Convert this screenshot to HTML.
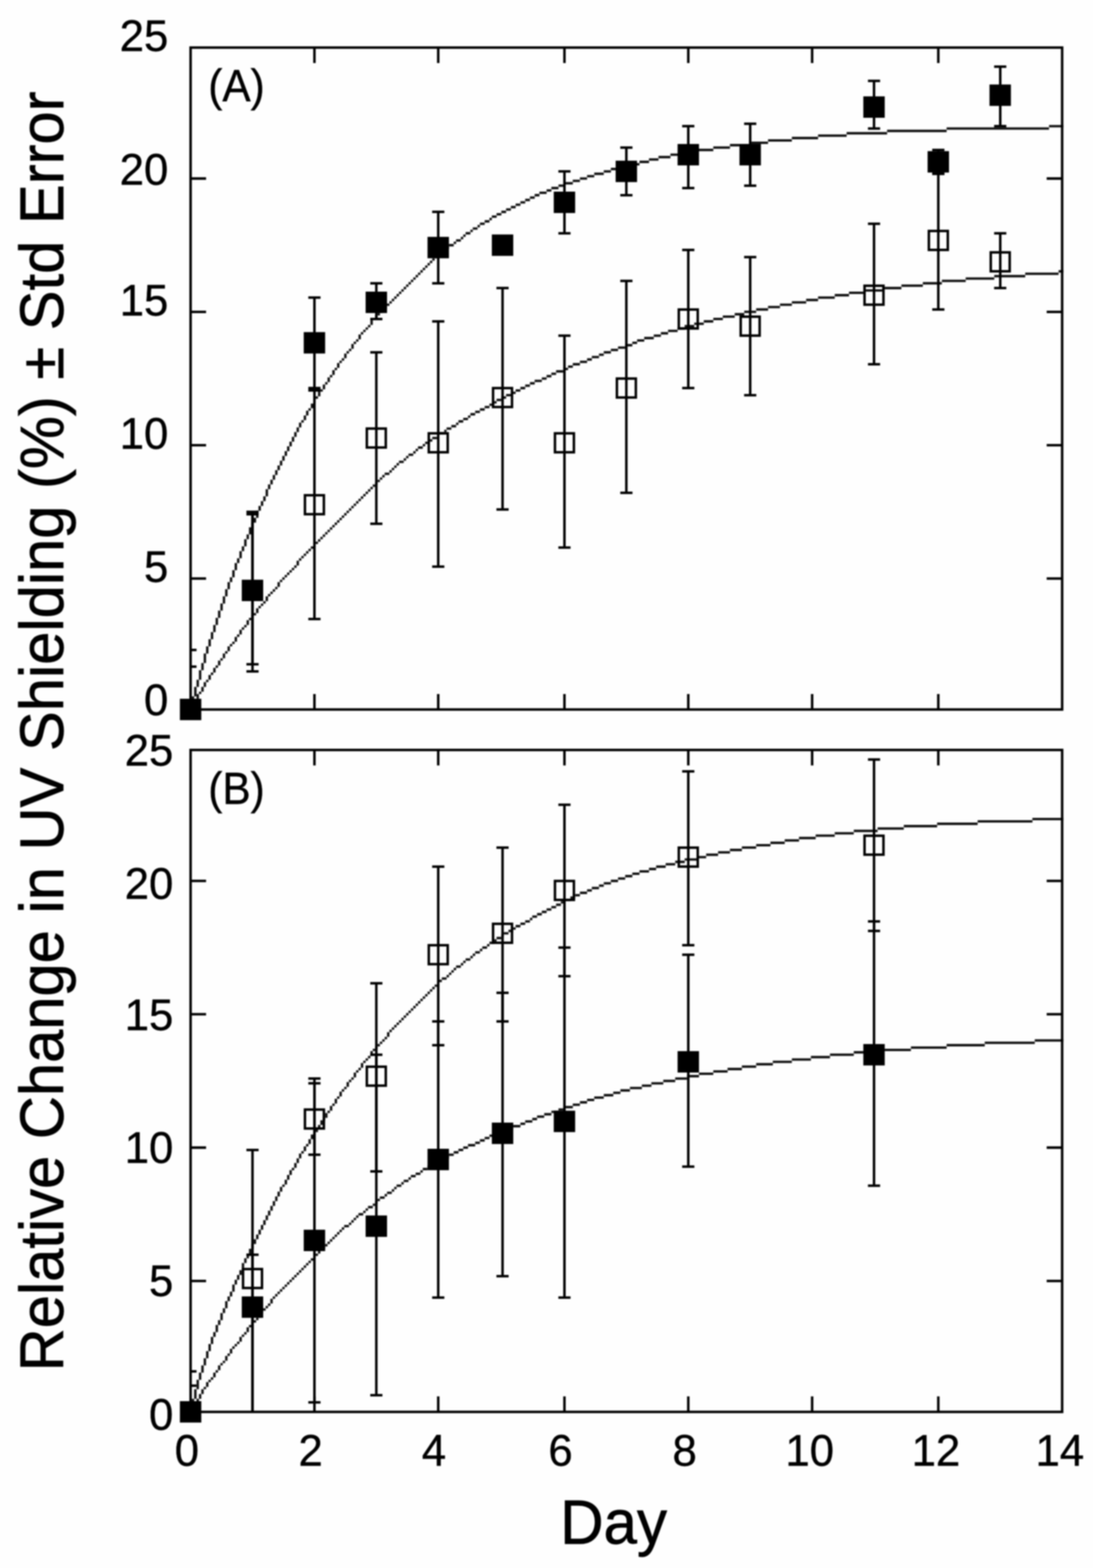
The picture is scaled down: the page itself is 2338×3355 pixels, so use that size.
<!DOCTYPE html>
<html lang="en"><head><meta charset="utf-8"><title>Relative Change in UV Shielding</title>
<style>html,body{margin:0;padding:0;background:#fff}body{width:2338px;height:3355px;overflow:hidden}svg{display:block}text{font-family:"Liberation Sans", Arial, Helvetica, sans-serif;fill:#000}.tk{font-size:93.5px;stroke:#000;stroke-width:0.8px}.tt{font-size:127.7px;stroke:#000;stroke-width:1.3px}.ln{stroke:#000;stroke-width:5.3;fill:none;stroke-linecap:butt}.cv{stroke:#1a1a1a;stroke-width:4.6;fill:none;stroke-linejoin:round}.px{fill:#101010}.fm{fill:#000}.om{fill:none;stroke:#000;stroke-width:5.3}</style></head><body>
<svg width="2338" height="3355" viewBox="0 0 2338 3355">
<defs><filter id="soft" x="-2%" y="-2%" width="104%" height="104%"><feGaussianBlur stdDeviation="1.5"/></filter></defs>
<rect width="2338" height="3355" fill="#fefefe"/>
<g filter="url(#soft)">
<g id="panelA">
<path class="px" d="M405.2 1520.6h5.1v-10.2h-5.1zM410.2 1510.4h5.1v-20.4h-5.1zM415.3 1490.1h5.1v-20.4h-5.1zM420.4 1469.7h5.1v-15.3h-5.1zM425.5 1454.4h5.1v-20.4h-5.1zM430.6 1434h5.1v-15.3h-5.1zM435.7 1418.7h5.1v-20.4h-5.1zM440.8 1398.4h5.1v-15.3h-5.1zM445.9 1383.1h5.1v-15.3h-5.1zM451 1367.8h5.1v-15.3h-5.1zM456.1 1352.5h5.1v-15.3h-5.1zM461.2 1337.2h5.1v-15.3h-5.1zM466.3 1321.9h5.1v-15.3h-5.1zM471.4 1306.6h5.1v-15.3h-5.1zM476.5 1291.4h5.1v-15.3h-5.1zM481.6 1276.1h5.1v-15.3h-5.1zM486.7 1260.8h5.1v-15.3h-5.1zM491.7 1245.5h5.1v-10.2h-5.1zM496.8 1235.3h5.1v-15.3h-5.1zM501.9 1220h5.1v-15.3h-5.1zM507 1204.8h5.1v-10.2h-5.1zM512.1 1194.6h5.1v-15.3h-5.1zM517.2 1179.3h5.1v-10.2h-5.1zM522.3 1169.1h5.1v-15.3h-5.1zM527.4 1153.8h5.1v-10.2h-5.1zM532.5 1143.6h5.1v-15.3h-5.1zM537.6 1128.3h5.1v-10.2h-5.1zM542.7 1118.2h5.1v-10.2h-5.1zM547.8 1108h5.1v-15.3h-5.1zM552.9 1092.7h5.1v-10.2h-5.1zM558 1082.5h5.1v-10.2h-5.1zM563.1 1072.3h5.1v-10.2h-5.1zM568.2 1062.1h5.1v-15.3h-5.1zM573.2 1046.8h5.1v-10.2h-5.1zM578.3 1036.6h5.1v-10.2h-5.1zM583.4 1026.5h5.1v-10.2h-5.1zM588.5 1016.3h5.1v-10.2h-5.1zM593.6 1006.1h5.1v-10.2h-5.1zM598.7 995.9h5.1v-10.2h-5.1zM603.8 985.7h5.1v-10.2h-5.1zM608.9 975.5h5.1v-10.2h-5.1zM614 965.3h5.1v-10.2h-5.1zM619.1 955.1h5.1v-10.2h-5.1zM624.2 944.9h5.1v-10.2h-5.1zM629.3 934.8h5.1v-10.2h-5.1zM634.4 924.6h5.1v-10.2h-5.1zM639.5 914.4h5.1v-10.2h-5.1zM644.6 904.2h5.1v-5.1h-5.1zM649.7 899.1h5.1v-10.2h-5.1zM654.7 888.9h5.1v-10.2h-5.1zM659.8 878.7h5.1v-5.1h-5.1zM664.9 873.6h5.1v-10.2h-5.1zM670 863.4h5.1v-10.2h-5.1zM675.1 853.2h5.1v-5.1h-5.1zM680.2 848.1h5.1v-10.2h-5.1zM685.3 838h5.1v-5.1h-5.1zM690.4 832.9h5.1v-10.2h-5.1zM695.5 822.7h5.1v-5.1h-5.1zM700.6 817.6h5.1v-10.2h-5.1zM705.7 807.4h5.1v-5.1h-5.1zM710.8 802.3h5.1v-10.2h-5.1zM715.9 792.1h5.1v-5.1h-5.1zM721 787h5.1v-10.2h-5.1zM726.1 776.8h5.1v-5.1h-5.1zM731.1 771.7h5.1v-5.1h-5.1zM736.2 766.6h5.1v-10.2h-5.1zM741.3 756.4h5.1v-5.1h-5.1zM746.4 751.3h5.1v-5.1h-5.1zM751.5 746.3h5.1v-10.2h-5.1zM756.6 736.1h5.1v-5.1h-5.1zM761.7 731h5.1v-5.1h-5.1zM766.8 725.9h5.1v-10.2h-5.1zM771.9 715.7h5.1v-5.1h-5.1zM777 710.6h5.1v-5.1h-5.1zM782.1 705.5h5.1v-5.1h-5.1zM787.2 700.4h5.1v-5.1h-5.1zM792.3 695.3h5.1v-10.2h-5.1zM797.4 685.1h5.1v-5.1h-5.1zM802.5 680h5.1v-5.1h-5.1zM807.6 674.9h5.1v-5.1h-5.1zM812.6 669.8h5.1v-5.1h-5.1zM817.7 664.7h5.1v-5.1h-5.1zM822.8 659.6h5.1v-5.1h-5.1zM827.9 654.6h5.1v-5.1h-5.1zM833 649.5h5.1v-5.1h-5.1zM838.1 644.4h5.1v-5.1h-5.1zM843.2 639.3h5.1v-5.1h-5.1zM848.3 634.2h5.1v-5.1h-5.1zM853.4 629.1h5.1v-5.1h-5.1zM858.5 624h5.1v-5.1h-5.1zM863.6 618.9h5.1v-5.1h-5.1zM868.7 613.8h5.1v-5.1h-5.1zM873.8 608.7h5.1v-5.1h-5.1zM878.9 603.6h5.1v-5.1h-5.1zM884 598.5h5.1v-5.1h-5.1zM889.1 593.4h5.1v-5.1h-5.1zM894.1 588.3h5.1v-5.1h-5.1zM899.2 583.2h5.1v-5.1h-5.1zM904.3 578.1h5.1v-5.1h-5.1zM909.4 573h5.1v-5.1h-5.1zM914.5 567.9h5.1v-5.1h-5.1zM919.6 562.9h5.1v-5.1h-5.1zM924.7 557.8h5.1v-5.1h-5.1zM929.8 552.7h5.1v-5.1h-5.1zM934.9 547.6h10.2v-5.1h-10.2zM945.1 542.5h5.1v-5.1h-5.1zM950.2 537.4h5.1v-5.1h-5.1zM955.3 532.3h5.1v-5.1h-5.1zM960.4 527.2h10.2v-5.1h-10.2zM970.6 522.1h5.1v-5.1h-5.1zM975.6 517h10.2v-5.1h-10.2zM985.8 511.9h5.1v-5.1h-5.1zM990.9 506.8h5.1v-5.1h-5.1zM996 501.7h10.2v-5.1h-10.2zM1006.2 496.6h5.1v-5.1h-5.1zM1011.3 491.5h10.2v-5.1h-10.2zM1021.5 486.4h5.1v-5.1h-5.1zM1026.6 481.3h10.2v-5.1h-10.2zM1036.8 476.2h10.2v-5.1h-10.2zM1047 471.2h5.1v-5.1h-5.1zM1052.1 466.1h10.2v-5.1h-10.2zM1062.2 461h10.2v-5.1h-10.2zM1072.4 455.9h10.2v-5.1h-10.2zM1082.6 450.8h10.2v-5.1h-10.2zM1092.8 445.7h10.2v-5.1h-10.2zM1103 440.6h10.2v-5.1h-10.2zM1113.2 435.5h10.2v-5.1h-10.2zM1123.4 430.4h10.2v-5.1h-10.2zM1133.6 425.3h10.2v-5.1h-10.2zM1143.7 420.2h10.2v-5.1h-10.2zM1153.9 415.1h15.3v-5.1h-15.3zM1169.2 410h10.2v-5.1h-10.2zM1179.4 404.9h15.3v-5.1h-15.3zM1194.7 399.8h15.3v-5.1h-15.3zM1210 394.7h15.3v-5.1h-15.3zM1225.2 389.6h15.3v-5.1h-15.3zM1240.5 384.5h15.3v-5.1h-15.3zM1255.8 379.5h15.3v-5.1h-15.3zM1271.1 374.4h20.4v-5.1h-20.4zM1291.5 369.3h15.3v-5.1h-15.3zM1306.7 364.2h20.4v-5.1h-20.4zM1327.1 359.1h20.4v-5.1h-20.4zM1347.5 354h20.4v-5.1h-20.4zM1367.9 348.9h20.4v-5.1h-20.4zM1388.2 343.8h20.4v-5.1h-20.4zM1408.6 338.7h25.5v-5.1h-25.5zM1434.1 333.6h25.5v-5.1h-25.5zM1459.5 328.5h30.6v-5.1h-30.6zM1490.1 323.4h35.7v-5.1h-35.7zM1525.8 318.3h35.7v-5.1h-35.7zM1561.4 313.2h40.7v-5.1h-40.7zM1602.2 308.1h40.7v-5.1h-40.7zM1642.9 303h50.9v-5.1h-50.9zM1693.9 297.9h56v-5.1h-56zM1749.9 292.8h61.1v-5.1h-61.1zM1811 287.7h86.6v-5.1h-86.6zM1897.6 282.7h127.3v-5.1h-127.3zM2024.9 277.6h219v-5.1h-219zM2244 272.5h30.6v-5.1h-30.6z"/>
<path class="px" d="M405.2 1520.6h5.1v-5.1h-5.1zM410.2 1515.5h5.1v-10.2h-5.1zM415.3 1505.3h5.1v-10.2h-5.1zM420.4 1495.1h5.1v-10.2h-5.1zM425.5 1485h5.1v-5.1h-5.1zM430.6 1479.9h5.1v-10.2h-5.1zM435.7 1469.7h5.1v-10.2h-5.1zM440.8 1459.5h5.1v-5.1h-5.1zM445.9 1454.4h5.1v-10.2h-5.1zM451 1444.2h5.1v-5.1h-5.1zM456.1 1439.1h5.1v-10.2h-5.1zM461.2 1428.9h5.1v-5.1h-5.1zM466.3 1423.8h5.1v-10.2h-5.1zM471.4 1413.6h5.1v-5.1h-5.1zM476.5 1408.5h5.1v-10.2h-5.1zM481.6 1398.4h5.1v-5.1h-5.1zM486.7 1393.3h5.1v-10.2h-5.1zM491.7 1383.1h5.1v-5.1h-5.1zM496.8 1378h5.1v-5.1h-5.1zM501.9 1372.9h5.1v-10.2h-5.1zM507 1362.7h5.1v-5.1h-5.1zM512.1 1357.6h5.1v-10.2h-5.1zM517.2 1347.4h5.1v-5.1h-5.1zM522.3 1342.3h5.1v-5.1h-5.1zM527.4 1337.2h5.1v-10.2h-5.1zM532.5 1327h5.1v-5.1h-5.1zM537.6 1321.9h5.1v-5.1h-5.1zM542.7 1316.8h5.1v-5.1h-5.1zM547.8 1311.7h5.1v-10.2h-5.1zM552.9 1301.6h5.1v-5.1h-5.1zM558 1296.5h5.1v-5.1h-5.1zM563.1 1291.4h5.1v-5.1h-5.1zM568.2 1286.3h5.1v-10.2h-5.1zM573.2 1276.1h5.1v-5.1h-5.1zM578.3 1271h5.1v-5.1h-5.1zM583.4 1265.9h5.1v-5.1h-5.1zM588.5 1260.8h5.1v-5.1h-5.1zM593.6 1255.7h5.1v-10.2h-5.1zM598.7 1245.5h5.1v-5.1h-5.1zM603.8 1240.4h5.1v-5.1h-5.1zM608.9 1235.3h5.1v-5.1h-5.1zM614 1230.2h5.1v-5.1h-5.1zM619.1 1225.1h5.1v-5.1h-5.1zM624.2 1220h5.1v-5.1h-5.1zM629.3 1214.9h5.1v-5.1h-5.1zM634.4 1209.9h5.1v-10.2h-5.1zM639.5 1199.7h5.1v-5.1h-5.1zM644.6 1194.6h5.1v-5.1h-5.1zM649.7 1189.5h5.1v-5.1h-5.1zM654.7 1184.4h5.1v-5.1h-5.1zM659.8 1179.3h5.1v-5.1h-5.1zM664.9 1174.2h5.1v-5.1h-5.1zM670 1169.1h5.1v-5.1h-5.1zM675.1 1164h5.1v-5.1h-5.1zM680.2 1158.9h5.1v-5.1h-5.1zM685.3 1153.8h5.1v-5.1h-5.1zM690.4 1148.7h5.1v-5.1h-5.1zM695.5 1143.6h5.1v-5.1h-5.1zM700.6 1138.5h5.1v-5.1h-5.1zM705.7 1133.4h5.1v-5.1h-5.1zM710.8 1128.3h5.1v-5.1h-5.1zM715.9 1123.2h5.1v-5.1h-5.1zM721 1118.2h5.1v-5.1h-5.1zM726.1 1113.1h5.1v-5.1h-5.1zM731.1 1108h5.1v-5.1h-5.1zM736.2 1102.9h5.1v-5.1h-5.1zM741.3 1097.8h5.1v-5.1h-5.1zM746.4 1092.7h5.1v-5.1h-5.1zM751.5 1087.6h5.1v-5.1h-5.1zM756.6 1082.5h5.1v-5.1h-5.1zM761.7 1077.4h5.1v-5.1h-5.1zM766.8 1072.3h5.1v-5.1h-5.1zM771.9 1067.2h5.1v-5.1h-5.1zM777 1062.1h5.1v-5.1h-5.1zM782.1 1057h5.1v-5.1h-5.1zM787.2 1051.9h5.1v-5.1h-5.1zM792.3 1046.8h5.1v-5.1h-5.1zM797.4 1041.7h5.1v-5.1h-5.1zM802.5 1036.6h5.1v-5.1h-5.1zM807.6 1031.5h5.1v-5.1h-5.1zM812.6 1026.5h5.1v-5.1h-5.1zM817.7 1021.4h5.1v-5.1h-5.1zM822.8 1016.3h10.2v-5.1h-10.2zM833 1011.2h5.1v-5.1h-5.1zM838.1 1006.1h5.1v-5.1h-5.1zM843.2 1001h5.1v-5.1h-5.1zM848.3 995.9h5.1v-5.1h-5.1zM853.4 990.8h10.2v-5.1h-10.2zM863.6 985.7h5.1v-5.1h-5.1zM868.7 980.6h5.1v-5.1h-5.1zM873.8 975.5h10.2v-5.1h-10.2zM884 970.4h5.1v-5.1h-5.1zM889.1 965.3h5.1v-5.1h-5.1zM894.1 960.2h10.2v-5.1h-10.2zM904.3 955.1h5.1v-5.1h-5.1zM909.4 950h10.2v-5.1h-10.2zM919.6 944.9h5.1v-5.1h-5.1zM924.7 939.8h10.2v-5.1h-10.2zM934.9 934.8h5.1v-5.1h-5.1zM940 929.7h10.2v-5.1h-10.2zM950.2 924.6h5.1v-5.1h-5.1zM955.3 919.5h10.2v-5.1h-10.2zM965.5 914.4h10.2v-5.1h-10.2zM975.6 909.3h5.1v-5.1h-5.1zM980.7 904.2h10.2v-5.1h-10.2zM990.9 899.1h10.2v-5.1h-10.2zM1001.1 894h5.1v-5.1h-5.1zM1006.2 888.9h10.2v-5.1h-10.2zM1016.4 883.8h10.2v-5.1h-10.2zM1026.6 878.7h10.2v-5.1h-10.2zM1036.8 873.6h10.2v-5.1h-10.2zM1047 868.5h10.2v-5.1h-10.2zM1057.1 863.4h5.1v-5.1h-5.1zM1062.2 858.3h10.2v-5.1h-10.2zM1072.4 853.2h10.2v-5.1h-10.2zM1082.6 848.1h10.2v-5.1h-10.2zM1092.8 843h10.2v-5.1h-10.2zM1103 838h10.2v-5.1h-10.2zM1113.2 832.9h10.2v-5.1h-10.2zM1123.4 827.8h10.2v-5.1h-10.2zM1133.6 822.7h10.2v-5.1h-10.2zM1143.7 817.6h15.3v-5.1h-15.3zM1159 812.5h10.2v-5.1h-10.2zM1169.2 807.4h10.2v-5.1h-10.2zM1179.4 802.3h10.2v-5.1h-10.2zM1189.6 797.2h15.3v-5.1h-15.3zM1204.9 792.1h10.2v-5.1h-10.2zM1215.1 787h10.2v-5.1h-10.2zM1225.2 781.9h15.3v-5.1h-15.3zM1240.5 776.8h15.3v-5.1h-15.3zM1255.8 771.7h10.2v-5.1h-10.2zM1266 766.6h15.3v-5.1h-15.3zM1281.3 761.5h10.2v-5.1h-10.2zM1291.5 756.4h15.3v-5.1h-15.3zM1306.7 751.3h15.3v-5.1h-15.3zM1322 746.3h15.3v-5.1h-15.3zM1337.3 741.2h15.3v-5.1h-15.3zM1352.6 736.1h10.2v-5.1h-10.2zM1362.8 731h15.3v-5.1h-15.3zM1378 725.9h20.4v-5.1h-20.4zM1398.4 720.8h15.3v-5.1h-15.3zM1413.7 715.7h15.3v-5.1h-15.3zM1429 710.6h20.4v-5.1h-20.4zM1449.4 705.5h15.3v-5.1h-15.3zM1464.6 700.4h20.4v-5.1h-20.4zM1485 695.3h20.4v-5.1h-20.4zM1505.4 690.2h20.4v-5.1h-20.4zM1525.8 685.1h20.4v-5.1h-20.4zM1546.1 680h25.5v-5.1h-25.5zM1571.6 674.9h20.4v-5.1h-20.4zM1592 669.8h25.5v-5.1h-25.5zM1617.5 664.7h25.5v-5.1h-25.5zM1642.9 659.6h25.5v-5.1h-25.5zM1668.4 654.6h25.5v-5.1h-25.5zM1693.9 649.5h30.6v-5.1h-30.6zM1724.4 644.4h25.5v-5.1h-25.5zM1749.9 639.3h35.7v-5.1h-35.7zM1785.5 634.2h30.6v-5.1h-30.6zM1816.1 629.1h35.7v-5.1h-35.7zM1851.8 624h35.7v-5.1h-35.7zM1887.4 618.9h40.7v-5.1h-40.7zM1928.2 613.8h45.8v-5.1h-45.8zM1974 608.7h40.7v-5.1h-40.7zM2014.8 603.6h50.9v-5.1h-50.9zM2065.7 598.5h61.1v-5.1h-61.1zM2126.8 593.4h66.2v-5.1h-66.2zM2193 588.3h71.3v-5.1h-71.3zM2264.4 583.2h10.2v-5.1h-10.2z"/>
<rect class="ln" x="407.7" y="101.8" width="1864.3" height="1416.3"/>
<line class="ln" x1="672.6" y1="101.8" x2="672.6" y2="134.9"/>
<line class="ln" x1="672.6" y1="1518.1" x2="672.6" y2="1485"/>
<line class="ln" x1="937.4" y1="101.8" x2="937.4" y2="134.9"/>
<line class="ln" x1="937.4" y1="1518.1" x2="937.4" y2="1485"/>
<line class="ln" x1="1207.4" y1="101.8" x2="1207.4" y2="134.9"/>
<line class="ln" x1="1207.4" y1="1518.1" x2="1207.4" y2="1485"/>
<line class="ln" x1="1472.3" y1="101.8" x2="1472.3" y2="134.9"/>
<line class="ln" x1="1472.3" y1="1518.1" x2="1472.3" y2="1485"/>
<line class="ln" x1="1737.2" y1="101.8" x2="1737.2" y2="134.9"/>
<line class="ln" x1="1737.2" y1="1518.1" x2="1737.2" y2="1485"/>
<line class="ln" x1="2007.1" y1="101.8" x2="2007.1" y2="134.9"/>
<line class="ln" x1="2007.1" y1="1518.1" x2="2007.1" y2="1485"/>
<line class="ln" x1="407.7" y1="382" x2="440.8" y2="382"/>
<line class="ln" x1="2272" y1="382" x2="2238.9" y2="382"/>
<line class="ln" x1="407.7" y1="667.3" x2="440.8" y2="667.3"/>
<line class="ln" x1="2272" y1="667.3" x2="2238.9" y2="667.3"/>
<line class="ln" x1="407.7" y1="952.6" x2="440.8" y2="952.6"/>
<line class="ln" x1="2272" y1="952.6" x2="2238.9" y2="952.6"/>
<line class="ln" x1="407.7" y1="1237.9" x2="440.8" y2="1237.9"/>
<line class="ln" x1="2272" y1="1237.9" x2="2238.9" y2="1237.9"/>
<line class="ln" x1="407.7" y1="1390.7" x2="420.4" y2="1390.7"/>
<line class="ln" x1="407.7" y1="1426.4" x2="420.4" y2="1426.4"/>
<line class="ln" x1="672.6" y1="835.4" x2="672.6" y2="1324.5"/>
<line class="ln" x1="659.5" y1="835.4" x2="685.6" y2="835.4"/>
<line class="ln" x1="659.5" y1="1324.5" x2="685.6" y2="1324.5"/>
<line class="ln" x1="805" y1="753.9" x2="805" y2="1120.7"/>
<line class="ln" x1="792" y1="753.9" x2="818" y2="753.9"/>
<line class="ln" x1="792" y1="1120.7" x2="818" y2="1120.7"/>
<line class="ln" x1="937.4" y1="687.7" x2="937.4" y2="1212.4"/>
<line class="ln" x1="924.4" y1="687.7" x2="950.5" y2="687.7"/>
<line class="ln" x1="924.4" y1="1212.4" x2="950.5" y2="1212.4"/>
<line class="ln" x1="1075" y1="616.3" x2="1075" y2="1090.1"/>
<line class="ln" x1="1061.9" y1="616.3" x2="1088" y2="616.3"/>
<line class="ln" x1="1061.9" y1="1090.1" x2="1088" y2="1090.1"/>
<line class="ln" x1="1207.4" y1="718.2" x2="1207.4" y2="1171.6"/>
<line class="ln" x1="1194.4" y1="718.2" x2="1220.4" y2="718.2"/>
<line class="ln" x1="1194.4" y1="1171.6" x2="1220.4" y2="1171.6"/>
<line class="ln" x1="1339.8" y1="601.1" x2="1339.8" y2="1054.5"/>
<line class="ln" x1="1326.8" y1="601.1" x2="1352.9" y2="601.1"/>
<line class="ln" x1="1326.8" y1="1054.5" x2="1352.9" y2="1054.5"/>
<line class="ln" x1="1472.3" y1="534.8" x2="1472.3" y2="830.3"/>
<line class="ln" x1="1459.2" y1="534.8" x2="1485.3" y2="534.8"/>
<line class="ln" x1="1459.2" y1="830.3" x2="1485.3" y2="830.3"/>
<line class="ln" x1="1604.7" y1="550.1" x2="1604.7" y2="845.6"/>
<line class="ln" x1="1591.7" y1="550.1" x2="1617.8" y2="550.1"/>
<line class="ln" x1="1591.7" y1="845.6" x2="1617.8" y2="845.6"/>
<line class="ln" x1="1869.6" y1="478.8" x2="1869.6" y2="779.4"/>
<line class="ln" x1="1856.6" y1="478.8" x2="1882.6" y2="478.8"/>
<line class="ln" x1="1856.6" y1="779.4" x2="1882.6" y2="779.4"/>
<line class="ln" x1="2007.1" y1="371.8" x2="2007.1" y2="662.2"/>
<line class="ln" x1="1994.1" y1="371.8" x2="2020.2" y2="371.8"/>
<line class="ln" x1="1994.1" y1="662.2" x2="2020.2" y2="662.2"/>
<line class="ln" x1="2139.6" y1="499.2" x2="2139.6" y2="616.3"/>
<line class="ln" x1="2126.5" y1="499.2" x2="2152.6" y2="499.2"/>
<line class="ln" x1="2126.5" y1="616.3" x2="2152.6" y2="616.3"/>
<line class="ln" x1="540.1" y1="1095.2" x2="540.1" y2="1421.3"/>
<line class="ln" x1="527.1" y1="1095.2" x2="553.2" y2="1095.2"/>
<line class="ln" x1="527.1" y1="1421.3" x2="553.2" y2="1421.3"/>
<line class="ln" x1="672.6" y1="636.7" x2="672.6" y2="830.3"/>
<line class="ln" x1="659.5" y1="636.7" x2="685.6" y2="636.7"/>
<line class="ln" x1="659.5" y1="830.3" x2="685.6" y2="830.3"/>
<line class="ln" x1="805" y1="606.2" x2="805" y2="682.6"/>
<line class="ln" x1="792" y1="606.2" x2="818" y2="606.2"/>
<line class="ln" x1="792" y1="682.6" x2="818" y2="682.6"/>
<line class="ln" x1="937.4" y1="453.3" x2="937.4" y2="606.2"/>
<line class="ln" x1="924.4" y1="453.3" x2="950.5" y2="453.3"/>
<line class="ln" x1="924.4" y1="606.2" x2="950.5" y2="606.2"/>
<line class="ln" x1="1207.4" y1="366.7" x2="1207.4" y2="499.2"/>
<line class="ln" x1="1194.4" y1="366.7" x2="1220.4" y2="366.7"/>
<line class="ln" x1="1194.4" y1="499.2" x2="1220.4" y2="499.2"/>
<line class="ln" x1="1339.8" y1="315.8" x2="1339.8" y2="417.7"/>
<line class="ln" x1="1326.8" y1="315.8" x2="1352.9" y2="315.8"/>
<line class="ln" x1="1326.8" y1="417.7" x2="1352.9" y2="417.7"/>
<line class="ln" x1="1472.3" y1="269.9" x2="1472.3" y2="402.4"/>
<line class="ln" x1="1459.2" y1="269.9" x2="1485.3" y2="269.9"/>
<line class="ln" x1="1459.2" y1="402.4" x2="1485.3" y2="402.4"/>
<line class="ln" x1="1604.7" y1="264.8" x2="1604.7" y2="397.3"/>
<line class="ln" x1="1591.7" y1="264.8" x2="1617.8" y2="264.8"/>
<line class="ln" x1="1591.7" y1="397.3" x2="1617.8" y2="397.3"/>
<line class="ln" x1="1869.6" y1="173.1" x2="1869.6" y2="275"/>
<line class="ln" x1="1856.6" y1="173.1" x2="1882.6" y2="173.1"/>
<line class="ln" x1="1856.6" y1="275" x2="1882.6" y2="275"/>
<line class="ln" x1="2007.1" y1="320.9" x2="2007.1" y2="371.8"/>
<line class="ln" x1="1994.1" y1="320.9" x2="2020.2" y2="320.9"/>
<line class="ln" x1="1994.1" y1="371.8" x2="2020.2" y2="371.8"/>
<line class="ln" x1="2139.6" y1="142.6" x2="2139.6" y2="269.9"/>
<line class="ln" x1="2126.5" y1="142.6" x2="2152.6" y2="142.6"/>
<line class="ln" x1="2126.5" y1="269.9" x2="2152.6" y2="269.9"/>
<line class="ln" x1="540.1" y1="1100.3" x2="540.1" y2="1436.6"/>
<line class="ln" x1="527.1" y1="1100.3" x2="553.2" y2="1100.3"/>
<line class="ln" x1="527.1" y1="1436.6" x2="553.2" y2="1436.6"/>
<rect class="om" x="652.3" y="1059.7" width="40.5" height="40.5"/>
<rect class="om" x="784.7" y="917" width="40.5" height="40.5"/>
<rect class="om" x="917.2" y="927.2" width="40.5" height="40.5"/>
<rect class="om" x="1054.7" y="830.4" width="40.5" height="40.5"/>
<rect class="om" x="1187.1" y="927.2" width="40.5" height="40.5"/>
<rect class="om" x="1319.6" y="810" width="40.5" height="40.5"/>
<rect class="om" x="1452" y="662.3" width="40.5" height="40.5"/>
<rect class="om" x="1584.4" y="677.6" width="40.5" height="40.5"/>
<rect class="om" x="1849.3" y="611.4" width="40.5" height="40.5"/>
<rect class="om" x="1986.9" y="494.2" width="40.5" height="40.5"/>
<rect class="om" x="2119.3" y="540" width="40.5" height="40.5"/>
<rect class="fm" x="384.8" y="1495.1" width="45.8" height="45.8"/>
<rect class="fm" x="517.2" y="1240.4" width="45.8" height="45.8"/>
<rect class="fm" x="649.7" y="710.6" width="45.8" height="45.8"/>
<rect class="fm" x="782.1" y="624" width="45.8" height="45.8"/>
<rect class="fm" x="914.5" y="506.8" width="45.8" height="45.8"/>
<rect class="fm" x="1052.1" y="501.7" width="45.8" height="45.8"/>
<rect class="fm" x="1184.5" y="410" width="45.8" height="45.8"/>
<rect class="fm" x="1316.9" y="343.8" width="45.8" height="45.8"/>
<rect class="fm" x="1449.4" y="308.1" width="45.8" height="45.8"/>
<rect class="fm" x="1581.8" y="308.1" width="45.8" height="45.8"/>
<rect class="fm" x="1846.7" y="206.2" width="45.8" height="45.8"/>
<rect class="fm" x="1984.2" y="323.4" width="45.8" height="45.8"/>
<rect class="fm" x="2116.6" y="180.8" width="45.8" height="45.8"/>
<text class="tk" transform="translate(360 108.5) scale(1 1.015)" text-anchor="end">25</text>
<text class="tk" transform="translate(360 395.5) scale(1 1.015)" text-anchor="end">20</text>
<text class="tk" transform="translate(360 675) scale(1 1.015)" text-anchor="end">15</text>
<text class="tk" transform="translate(360 960) scale(1 1.015)" text-anchor="end">10</text>
<text class="tk" transform="translate(360 1245) scale(1 1.015)" text-anchor="end">5</text>
<text class="tk" transform="translate(360 1530) scale(1 1.015)" text-anchor="end">0</text>
<text class="tk" transform="translate(445.5 215.5) scale(1 1.065)" style="font-size:90.5px">(A)</text>
</g>
<g id="panelB">
<path class="px" d="M405.2 3023.5h5.1v-10.2h-5.1zM410.2 3013.3h5.1v-20.4h-5.1zM415.3 2992.9h5.1v-20.4h-5.1zM420.4 2972.6h5.1v-20.4h-5.1zM425.5 2952.2h5.1v-15.3h-5.1zM430.6 2936.9h5.1v-15.3h-5.1zM435.7 2921.6h5.1v-15.3h-5.1zM440.8 2906.3h5.1v-15.3h-5.1zM445.9 2891h5.1v-15.3h-5.1zM451 2875.8h5.1v-15.3h-5.1zM456.1 2860.5h5.1v-10.2h-5.1zM461.2 2850.3h5.1v-15.3h-5.1zM466.3 2835h5.1v-10.2h-5.1zM471.4 2824.8h5.1v-15.3h-5.1zM476.5 2809.5h5.1v-10.2h-5.1zM481.6 2799.3h5.1v-15.3h-5.1zM486.7 2784.1h5.1v-10.2h-5.1zM491.7 2773.9h5.1v-10.2h-5.1zM496.8 2763.7h5.1v-15.3h-5.1zM501.9 2748.4h5.1v-10.2h-5.1zM507 2738.2h5.1v-10.2h-5.1zM512.1 2728h5.1v-10.2h-5.1zM517.2 2717.8h5.1v-15.3h-5.1zM522.3 2702.5h5.1v-10.2h-5.1zM527.4 2692.4h5.1v-10.2h-5.1zM532.5 2682.2h5.1v-10.2h-5.1zM537.6 2672h5.1v-10.2h-5.1zM542.7 2661.8h5.1v-10.2h-5.1zM547.8 2651.6h5.1v-10.2h-5.1zM552.9 2641.4h5.1v-10.2h-5.1zM558 2631.2h5.1v-10.2h-5.1zM563.1 2621h5.1v-10.2h-5.1zM568.2 2610.8h5.1v-10.2h-5.1zM573.2 2600.7h5.1v-10.2h-5.1zM578.3 2590.5h5.1v-10.2h-5.1zM583.4 2580.3h5.1v-10.2h-5.1zM588.5 2570.1h5.1v-10.2h-5.1zM593.6 2559.9h5.1v-10.2h-5.1zM598.7 2549.7h5.1v-10.2h-5.1zM603.8 2539.5h5.1v-5.1h-5.1zM608.9 2534.4h5.1v-10.2h-5.1zM614 2524.2h5.1v-10.2h-5.1zM619.1 2514h5.1v-10.2h-5.1zM624.2 2503.9h5.1v-5.1h-5.1zM629.3 2498.8h5.1v-10.2h-5.1zM634.4 2488.6h5.1v-10.2h-5.1zM639.5 2478.4h5.1v-10.2h-5.1zM644.6 2468.2h5.1v-5.1h-5.1zM649.7 2463.1h5.1v-10.2h-5.1zM654.7 2452.9h5.1v-5.1h-5.1zM659.8 2447.8h5.1v-10.2h-5.1zM664.9 2437.6h5.1v-10.2h-5.1zM670 2427.4h5.1v-5.1h-5.1zM675.1 2422.3h5.1v-10.2h-5.1zM680.2 2412.2h5.1v-5.1h-5.1zM685.3 2407.1h5.1v-10.2h-5.1zM690.4 2396.9h5.1v-5.1h-5.1zM695.5 2391.8h5.1v-10.2h-5.1zM700.6 2381.6h5.1v-5.1h-5.1zM705.7 2376.5h5.1v-10.2h-5.1zM710.8 2366.3h5.1v-5.1h-5.1zM715.9 2361.2h5.1v-10.2h-5.1zM721 2351h5.1v-5.1h-5.1zM726.1 2345.9h5.1v-10.2h-5.1zM731.1 2335.7h5.1v-5.1h-5.1zM736.2 2330.6h5.1v-5.1h-5.1zM741.3 2325.5h5.1v-10.2h-5.1zM746.4 2315.4h5.1v-5.1h-5.1zM751.5 2310.3h5.1v-5.1h-5.1zM756.6 2305.2h5.1v-10.2h-5.1zM761.7 2295h5.1v-5.1h-5.1zM766.8 2289.9h5.1v-5.1h-5.1zM771.9 2284.8h5.1v-10.2h-5.1zM777 2274.6h5.1v-5.1h-5.1zM782.1 2269.5h5.1v-5.1h-5.1zM787.2 2264.4h5.1v-5.1h-5.1zM792.3 2259.3h5.1v-10.2h-5.1zM797.4 2249.1h5.1v-5.1h-5.1zM802.5 2244h5.1v-5.1h-5.1zM807.6 2238.9h5.1v-5.1h-5.1zM812.6 2233.8h5.1v-5.1h-5.1zM817.7 2228.8h5.1v-5.1h-5.1zM822.8 2223.7h5.1v-5.1h-5.1zM827.9 2218.6h5.1v-10.2h-5.1zM833 2208.4h5.1v-5.1h-5.1zM838.1 2203.3h5.1v-5.1h-5.1zM843.2 2198.2h5.1v-5.1h-5.1zM848.3 2193.1h5.1v-5.1h-5.1zM853.4 2188h5.1v-5.1h-5.1zM858.5 2182.9h5.1v-5.1h-5.1zM863.6 2177.8h5.1v-5.1h-5.1zM868.7 2172.7h5.1v-5.1h-5.1zM873.8 2167.6h5.1v-5.1h-5.1zM878.9 2162.5h5.1v-5.1h-5.1zM884 2157.4h5.1v-5.1h-5.1zM889.1 2152.3h5.1v-5.1h-5.1zM894.1 2147.2h5.1v-5.1h-5.1zM899.2 2142.1h5.1v-5.1h-5.1zM904.3 2137.1h5.1v-5.1h-5.1zM909.4 2132h5.1v-5.1h-5.1zM914.5 2126.9h5.1v-5.1h-5.1zM919.6 2121.8h5.1v-5.1h-5.1zM924.7 2116.7h5.1v-5.1h-5.1zM929.8 2111.6h5.1v-5.1h-5.1zM934.9 2106.5h5.1v-5.1h-5.1zM940 2101.4h5.1v-5.1h-5.1zM945.1 2096.3h10.2v-5.1h-10.2zM955.3 2091.2h5.1v-5.1h-5.1zM960.4 2086.1h5.1v-5.1h-5.1zM965.5 2081h5.1v-5.1h-5.1zM970.6 2075.9h5.1v-5.1h-5.1zM975.6 2070.8h10.2v-5.1h-10.2zM985.8 2065.7h5.1v-5.1h-5.1zM990.9 2060.6h5.1v-5.1h-5.1zM996 2055.5h10.2v-5.1h-10.2zM1006.2 2050.4h5.1v-5.1h-5.1zM1011.3 2045.4h5.1v-5.1h-5.1zM1016.4 2040.3h10.2v-5.1h-10.2zM1026.6 2035.2h5.1v-5.1h-5.1zM1031.7 2030.1h10.2v-5.1h-10.2zM1041.9 2025h5.1v-5.1h-5.1zM1047 2019.9h10.2v-5.1h-10.2zM1057.1 2014.8h5.1v-5.1h-5.1zM1062.2 2009.7h10.2v-5.1h-10.2zM1072.4 2004.6h5.1v-5.1h-5.1zM1077.5 1999.5h10.2v-5.1h-10.2zM1087.7 1994.4h10.2v-5.1h-10.2zM1097.9 1989.3h5.1v-5.1h-5.1zM1103 1984.2h10.2v-5.1h-10.2zM1113.2 1979.1h10.2v-5.1h-10.2zM1123.4 1974h10.2v-5.1h-10.2zM1133.6 1968.9h5.1v-5.1h-5.1zM1138.6 1963.8h10.2v-5.1h-10.2zM1148.8 1958.7h10.2v-5.1h-10.2zM1159 1953.7h10.2v-5.1h-10.2zM1169.2 1948.6h10.2v-5.1h-10.2zM1179.4 1943.5h10.2v-5.1h-10.2zM1189.6 1938.4h10.2v-5.1h-10.2zM1199.8 1933.3h10.2v-5.1h-10.2zM1210 1928.2h10.2v-5.1h-10.2zM1220.1 1923.1h10.2v-5.1h-10.2zM1230.3 1918h10.2v-5.1h-10.2zM1240.5 1912.9h15.3v-5.1h-15.3zM1255.8 1907.8h10.2v-5.1h-10.2zM1266 1902.7h15.3v-5.1h-15.3zM1281.3 1897.6h10.2v-5.1h-10.2zM1291.5 1892.5h15.3v-5.1h-15.3zM1306.7 1887.4h15.3v-5.1h-15.3zM1322 1882.3h15.3v-5.1h-15.3zM1337.3 1877.2h15.3v-5.1h-15.3zM1352.6 1872.1h15.3v-5.1h-15.3zM1367.9 1867h20.4v-5.1h-20.4zM1388.2 1861.9h15.3v-5.1h-15.3zM1403.5 1856.9h20.4v-5.1h-20.4zM1423.9 1851.8h20.4v-5.1h-20.4zM1444.3 1846.7h20.4v-5.1h-20.4zM1464.6 1841.6h25.5v-5.1h-25.5zM1490.1 1836.5h20.4v-5.1h-20.4zM1510.5 1831.4h25.5v-5.1h-25.5zM1536 1826.3h25.5v-5.1h-25.5zM1561.4 1821.2h25.5v-5.1h-25.5zM1586.9 1816.1h30.6v-5.1h-30.6zM1617.5 1811h30.6v-5.1h-30.6zM1648 1805.9h30.6v-5.1h-30.6zM1678.6 1800.8h30.6v-5.1h-30.6zM1709.1 1795.7h35.7v-5.1h-35.7zM1744.8 1790.6h40.7v-5.1h-40.7zM1785.5 1785.5h40.7v-5.1h-40.7zM1826.3 1780.4h50.9v-5.1h-50.9zM1877.2 1775.3h56v-5.1h-56zM1933.3 1770.2h71.3v-5.1h-71.3zM2004.6 1765.2h86.6v-5.1h-86.6zM2091.2 1760.1h117.2v-5.1h-117.2zM2208.3 1755h66.2v-5.1h-66.2z"/>
<path class="px" d="M405.2 3023.5h5.1v-5.1h-5.1zM410.2 3018.4h5.1v-10.2h-5.1zM415.3 3008.2h5.1v-10.2h-5.1zM420.4 2998h5.1v-5.1h-5.1zM425.5 2992.9h5.1v-10.2h-5.1zM430.6 2982.7h5.1v-10.2h-5.1zM435.7 2972.6h5.1v-5.1h-5.1zM440.8 2967.5h5.1v-10.2h-5.1zM445.9 2957.3h5.1v-5.1h-5.1zM451 2952.2h5.1v-5.1h-5.1zM456.1 2947.1h5.1v-10.2h-5.1zM461.2 2936.9h5.1v-5.1h-5.1zM466.3 2931.8h5.1v-10.2h-5.1zM471.4 2921.6h5.1v-5.1h-5.1zM476.5 2916.5h5.1v-5.1h-5.1zM481.6 2911.4h5.1v-10.2h-5.1zM486.7 2901.2h5.1v-5.1h-5.1zM491.7 2896.1h5.1v-10.2h-5.1zM496.8 2885.9h5.1v-5.1h-5.1zM501.9 2880.8h5.1v-5.1h-5.1zM507 2875.8h5.1v-5.1h-5.1zM512.1 2870.7h5.1v-10.2h-5.1zM517.2 2860.5h5.1v-5.1h-5.1zM522.3 2855.4h5.1v-5.1h-5.1zM527.4 2850.3h5.1v-10.2h-5.1zM532.5 2840.1h5.1v-5.1h-5.1zM537.6 2835h5.1v-5.1h-5.1zM542.7 2829.9h5.1v-5.1h-5.1zM547.8 2824.8h5.1v-5.1h-5.1zM552.9 2819.7h5.1v-10.2h-5.1zM558 2809.5h5.1v-5.1h-5.1zM563.1 2804.4h5.1v-5.1h-5.1zM568.2 2799.3h5.1v-5.1h-5.1zM573.2 2794.2h5.1v-5.1h-5.1zM578.3 2789.1h5.1v-10.2h-5.1zM583.4 2779h5.1v-5.1h-5.1zM588.5 2773.9h5.1v-5.1h-5.1zM593.6 2768.8h5.1v-5.1h-5.1zM598.7 2763.7h5.1v-5.1h-5.1zM603.8 2758.6h5.1v-5.1h-5.1zM608.9 2753.5h5.1v-5.1h-5.1zM614 2748.4h5.1v-5.1h-5.1zM619.1 2743.3h5.1v-5.1h-5.1zM624.2 2738.2h5.1v-5.1h-5.1zM629.3 2733.1h5.1v-5.1h-5.1zM634.4 2728h5.1v-5.1h-5.1zM639.5 2722.9h5.1v-5.1h-5.1zM644.6 2717.8h5.1v-5.1h-5.1zM649.7 2712.7h5.1v-5.1h-5.1zM654.7 2707.6h5.1v-5.1h-5.1zM659.8 2702.5h5.1v-5.1h-5.1zM664.9 2697.4h5.1v-5.1h-5.1zM670 2692.4h5.1v-5.1h-5.1zM675.1 2687.3h5.1v-5.1h-5.1zM680.2 2682.2h5.1v-5.1h-5.1zM685.3 2677.1h5.1v-5.1h-5.1zM690.4 2672h5.1v-5.1h-5.1zM695.5 2666.9h5.1v-5.1h-5.1zM700.6 2661.8h5.1v-5.1h-5.1zM705.7 2656.7h5.1v-5.1h-5.1zM710.8 2651.6h5.1v-5.1h-5.1zM715.9 2646.5h5.1v-5.1h-5.1zM721 2641.4h5.1v-5.1h-5.1zM726.1 2636.3h5.1v-5.1h-5.1zM731.1 2631.2h5.1v-5.1h-5.1zM736.2 2626.1h10.2v-5.1h-10.2zM746.4 2621h5.1v-5.1h-5.1zM751.5 2615.9h5.1v-5.1h-5.1zM756.6 2610.8h5.1v-5.1h-5.1zM761.7 2605.7h5.1v-5.1h-5.1zM766.8 2600.7h10.2v-5.1h-10.2zM777 2595.6h5.1v-5.1h-5.1zM782.1 2590.5h5.1v-5.1h-5.1zM787.2 2585.4h10.2v-5.1h-10.2zM797.4 2580.3h5.1v-5.1h-5.1zM802.5 2575.2h5.1v-5.1h-5.1zM807.6 2570.1h5.1v-5.1h-5.1zM812.6 2565h10.2v-5.1h-10.2zM822.8 2559.9h5.1v-5.1h-5.1zM827.9 2554.8h10.2v-5.1h-10.2zM838.1 2549.7h5.1v-5.1h-5.1zM843.2 2544.6h5.1v-5.1h-5.1zM848.3 2539.5h10.2v-5.1h-10.2zM858.5 2534.4h5.1v-5.1h-5.1zM863.6 2529.3h10.2v-5.1h-10.2zM873.8 2524.2h5.1v-5.1h-5.1zM878.9 2519.1h10.2v-5.1h-10.2zM889.1 2514h10.2v-5.1h-10.2zM899.2 2509h5.1v-5.1h-5.1zM904.3 2503.9h10.2v-5.1h-10.2zM914.5 2498.8h10.2v-5.1h-10.2zM924.7 2493.7h10.2v-5.1h-10.2zM934.9 2488.6h5.1v-5.1h-5.1zM940 2483.5h10.2v-5.1h-10.2zM950.2 2478.4h10.2v-5.1h-10.2zM960.4 2473.3h10.2v-5.1h-10.2zM970.6 2468.2h10.2v-5.1h-10.2zM980.7 2463.1h10.2v-5.1h-10.2zM990.9 2458h10.2v-5.1h-10.2zM1001.1 2452.9h15.3v-5.1h-15.3zM1016.4 2447.8h10.2v-5.1h-10.2zM1026.6 2442.7h10.2v-5.1h-10.2zM1036.8 2437.6h10.2v-5.1h-10.2zM1047 2432.5h15.3v-5.1h-15.3zM1062.2 2427.4h10.2v-5.1h-10.2zM1072.4 2422.3h15.3v-5.1h-15.3zM1087.7 2417.3h10.2v-5.1h-10.2zM1097.9 2412.2h15.3v-5.1h-15.3zM1113.2 2407.1h10.2v-5.1h-10.2zM1123.4 2402h15.3v-5.1h-15.3zM1138.6 2396.9h10.2v-5.1h-10.2zM1148.8 2391.8h15.3v-5.1h-15.3zM1164.1 2386.7h15.3v-5.1h-15.3zM1179.4 2381.6h15.3v-5.1h-15.3zM1194.7 2376.5h15.3v-5.1h-15.3zM1210 2371.4h15.3v-5.1h-15.3zM1225.2 2366.3h15.3v-5.1h-15.3zM1240.5 2361.2h15.3v-5.1h-15.3zM1255.8 2356.1h15.3v-5.1h-15.3zM1271.1 2351h20.4v-5.1h-20.4zM1291.5 2345.9h20.4v-5.1h-20.4zM1311.8 2340.8h15.3v-5.1h-15.3zM1327.1 2335.7h20.4v-5.1h-20.4zM1347.5 2330.6h25.5v-5.1h-25.5zM1373 2325.5h20.4v-5.1h-20.4zM1393.3 2320.5h25.5v-5.1h-25.5zM1418.8 2315.4h25.5v-5.1h-25.5zM1444.3 2310.3h25.5v-5.1h-25.5zM1469.7 2305.2h25.5v-5.1h-25.5zM1495.2 2300.1h30.6v-5.1h-30.6zM1525.8 2295h30.6v-5.1h-30.6zM1556.3 2289.9h30.6v-5.1h-30.6zM1586.9 2284.8h30.6v-5.1h-30.6zM1617.5 2279.7h35.7v-5.1h-35.7zM1653.1 2274.6h40.7v-5.1h-40.7zM1693.9 2269.5h40.7v-5.1h-40.7zM1734.6 2264.4h40.7v-5.1h-40.7zM1775.4 2259.3h50.9v-5.1h-50.9zM1826.3 2254.2h56v-5.1h-56zM1882.3 2249.1h66.2v-5.1h-66.2zM1948.5 2244h76.4v-5.1h-76.4zM2024.9 2238.9h81.5v-5.1h-81.5zM2106.4 2233.8h107v-5.1h-107zM2213.4 2228.8h61.1v-5.1h-61.1z"/>
<rect class="ln" x="407.7" y="1604.7" width="1864.3" height="1416.3"/>
<line class="ln" x1="672.6" y1="1604.7" x2="672.6" y2="1637.8"/>
<line class="ln" x1="672.6" y1="3020.9" x2="672.6" y2="2987.8"/>
<line class="ln" x1="937.4" y1="1604.7" x2="937.4" y2="1637.8"/>
<line class="ln" x1="937.4" y1="3020.9" x2="937.4" y2="2987.8"/>
<line class="ln" x1="1207.4" y1="1604.7" x2="1207.4" y2="1637.8"/>
<line class="ln" x1="1207.4" y1="3020.9" x2="1207.4" y2="2987.8"/>
<line class="ln" x1="1472.3" y1="1604.7" x2="1472.3" y2="1637.8"/>
<line class="ln" x1="1472.3" y1="3020.9" x2="1472.3" y2="2987.8"/>
<line class="ln" x1="1737.2" y1="1604.7" x2="1737.2" y2="1637.8"/>
<line class="ln" x1="1737.2" y1="3020.9" x2="1737.2" y2="2987.8"/>
<line class="ln" x1="2007.1" y1="1604.7" x2="2007.1" y2="1637.8"/>
<line class="ln" x1="2007.1" y1="3020.9" x2="2007.1" y2="2987.8"/>
<line class="ln" x1="407.7" y1="1884.9" x2="440.8" y2="1884.9"/>
<line class="ln" x1="2272" y1="1884.9" x2="2238.9" y2="1884.9"/>
<line class="ln" x1="407.7" y1="2170.2" x2="440.8" y2="2170.2"/>
<line class="ln" x1="2272" y1="2170.2" x2="2238.9" y2="2170.2"/>
<line class="ln" x1="407.7" y1="2455.5" x2="440.8" y2="2455.5"/>
<line class="ln" x1="2272" y1="2455.5" x2="2238.9" y2="2455.5"/>
<line class="ln" x1="407.7" y1="2740.8" x2="440.8" y2="2740.8"/>
<line class="ln" x1="2272" y1="2740.8" x2="2238.9" y2="2740.8"/>
<line class="ln" x1="407.7" y1="2934.3" x2="420.4" y2="2934.3"/>
<line class="ln" x1="407.7" y1="2964.9" x2="420.4" y2="2964.9"/>
<line class="ln" x1="540.1" y1="2460.6" x2="540.1" y2="3020.9"/>
<line class="ln" x1="527.1" y1="2460.6" x2="553.2" y2="2460.6"/>
<line class="ln" x1="672.6" y1="2317.9" x2="672.6" y2="2470.7"/>
<line class="ln" x1="659.5" y1="2317.9" x2="685.6" y2="2317.9"/>
<line class="ln" x1="659.5" y1="2470.7" x2="685.6" y2="2470.7"/>
<line class="ln" x1="805" y1="2103.9" x2="805" y2="2506.4"/>
<line class="ln" x1="792" y1="2103.9" x2="818" y2="2103.9"/>
<line class="ln" x1="792" y1="2506.4" x2="818" y2="2506.4"/>
<line class="ln" x1="937.4" y1="1854.3" x2="937.4" y2="2236.4"/>
<line class="ln" x1="924.4" y1="1854.3" x2="950.5" y2="1854.3"/>
<line class="ln" x1="924.4" y1="2236.4" x2="950.5" y2="2236.4"/>
<line class="ln" x1="1075" y1="1813.6" x2="1075" y2="2185.5"/>
<line class="ln" x1="1061.9" y1="1813.6" x2="1088" y2="1813.6"/>
<line class="ln" x1="1061.9" y1="2185.5" x2="1088" y2="2185.5"/>
<line class="ln" x1="1207.4" y1="1721.9" x2="1207.4" y2="2088.7"/>
<line class="ln" x1="1194.4" y1="1721.9" x2="1220.4" y2="1721.9"/>
<line class="ln" x1="1194.4" y1="2088.7" x2="1220.4" y2="2088.7"/>
<line class="ln" x1="1472.3" y1="1650.5" x2="1472.3" y2="2022.4"/>
<line class="ln" x1="1459.2" y1="1650.5" x2="1485.3" y2="1650.5"/>
<line class="ln" x1="1459.2" y1="2022.4" x2="1485.3" y2="2022.4"/>
<line class="ln" x1="1869.6" y1="1625.1" x2="1869.6" y2="1991.9"/>
<line class="ln" x1="1856.6" y1="1625.1" x2="1882.6" y2="1625.1"/>
<line class="ln" x1="1856.6" y1="1991.9" x2="1882.6" y2="1991.9"/>
<line class="ln" x1="540.1" y1="2684.7" x2="540.1" y2="3020.9"/>
<line class="ln" x1="527.1" y1="2684.7" x2="553.2" y2="2684.7"/>
<line class="ln" x1="672.6" y1="2307.7" x2="672.6" y2="3000.6"/>
<line class="ln" x1="659.5" y1="2307.7" x2="685.6" y2="2307.7"/>
<line class="ln" x1="659.5" y1="3000.6" x2="685.6" y2="3000.6"/>
<line class="ln" x1="805" y1="2256.8" x2="805" y2="2985.3"/>
<line class="ln" x1="792" y1="2256.8" x2="818" y2="2256.8"/>
<line class="ln" x1="792" y1="2985.3" x2="818" y2="2985.3"/>
<line class="ln" x1="937.4" y1="2185.5" x2="937.4" y2="2776.4"/>
<line class="ln" x1="924.4" y1="2185.5" x2="950.5" y2="2185.5"/>
<line class="ln" x1="924.4" y1="2776.4" x2="950.5" y2="2776.4"/>
<line class="ln" x1="1075" y1="2124.3" x2="1075" y2="2730.6"/>
<line class="ln" x1="1061.9" y1="2124.3" x2="1088" y2="2124.3"/>
<line class="ln" x1="1061.9" y1="2730.6" x2="1088" y2="2730.6"/>
<line class="ln" x1="1207.4" y1="2027.5" x2="1207.4" y2="2776.4"/>
<line class="ln" x1="1194.4" y1="2027.5" x2="1220.4" y2="2027.5"/>
<line class="ln" x1="1194.4" y1="2776.4" x2="1220.4" y2="2776.4"/>
<line class="ln" x1="1472.3" y1="2042.8" x2="1472.3" y2="2496.2"/>
<line class="ln" x1="1459.2" y1="2042.8" x2="1485.3" y2="2042.8"/>
<line class="ln" x1="1459.2" y1="2496.2" x2="1485.3" y2="2496.2"/>
<line class="ln" x1="1869.6" y1="1971.5" x2="1869.6" y2="2537"/>
<line class="ln" x1="1856.6" y1="1971.5" x2="1882.6" y2="1971.5"/>
<line class="ln" x1="1856.6" y1="2537" x2="1882.6" y2="2537"/>
<rect class="om" x="519.9" y="2715.4" width="40.5" height="40.5"/>
<rect class="om" x="652.3" y="2374.1" width="40.5" height="40.5"/>
<rect class="om" x="784.7" y="2282.4" width="40.5" height="40.5"/>
<rect class="om" x="917.2" y="2022.5" width="40.5" height="40.5"/>
<rect class="om" x="1054.7" y="1976.7" width="40.5" height="40.5"/>
<rect class="om" x="1187.1" y="1885" width="40.5" height="40.5"/>
<rect class="om" x="1452" y="1813.7" width="40.5" height="40.5"/>
<rect class="om" x="1849.3" y="1788.2" width="40.5" height="40.5"/>
<rect class="fm" x="384.8" y="2998" width="45.8" height="45.8"/>
<rect class="fm" x="517.2" y="2773.9" width="45.8" height="45.8"/>
<rect class="fm" x="649.7" y="2631.2" width="45.8" height="45.8"/>
<rect class="fm" x="782.1" y="2600.7" width="45.8" height="45.8"/>
<rect class="fm" x="914.5" y="2458" width="45.8" height="45.8"/>
<rect class="fm" x="1052.1" y="2402" width="45.8" height="45.8"/>
<rect class="fm" x="1184.5" y="2376.5" width="45.8" height="45.8"/>
<rect class="fm" x="1449.4" y="2249.1" width="45.8" height="45.8"/>
<rect class="fm" x="1846.7" y="2233.9" width="45.8" height="45.8"/>
<text class="tk" transform="translate(370.8 1638) scale(1 1.015)" text-anchor="end">25</text>
<text class="tk" transform="translate(370.8 1923.5) scale(1 1.015)" text-anchor="end">20</text>
<text class="tk" transform="translate(370.8 2204) scale(1 1.015)" text-anchor="end">15</text>
<text class="tk" transform="translate(370.8 2488.5) scale(1 1.015)" text-anchor="end">10</text>
<text class="tk" transform="translate(370.8 2773) scale(1 1.015)" text-anchor="end">5</text>
<text class="tk" transform="translate(370.8 3058.8) scale(1 1.015)" text-anchor="end">0</text>
<text class="tk" transform="translate(445.5 1720) scale(1 1.065)" style="font-size:90.5px">(B)</text>
</g>
<text class="tk" transform="translate(399.8 3136) scale(1 1.015)" text-anchor="middle">0</text>
<text class="tk" transform="translate(664.5 3136) scale(1 1.015)" text-anchor="middle">2</text>
<text class="tk" transform="translate(928.3 3136) scale(1 1.015)" text-anchor="middle">4</text>
<text class="tk" transform="translate(1199 3136) scale(1 1.015)" text-anchor="middle">6</text>
<text class="tk" transform="translate(1464.6 3136) scale(1 1.015)" text-anchor="middle">8</text>
<text class="tk" transform="translate(1732 3136) scale(1 1.015)" text-anchor="middle">10</text>
<text class="tk" transform="translate(2002 3136) scale(1 1.015)" text-anchor="middle">12</text>
<text class="tk" transform="translate(2267 3136) scale(1 1.015)" text-anchor="middle">14</text>
<text class="tt" transform="translate(1312.5 3302.5) scale(1 1.035)" text-anchor="middle" style="font-size:128.6px">Day</text>
<text class="tt" transform="translate(135.2 1565) rotate(-90) scale(1 1.035)" text-anchor="middle">Relative Change in UV Shielding (%) ± Std Error</text>
</g></svg></body></html>
